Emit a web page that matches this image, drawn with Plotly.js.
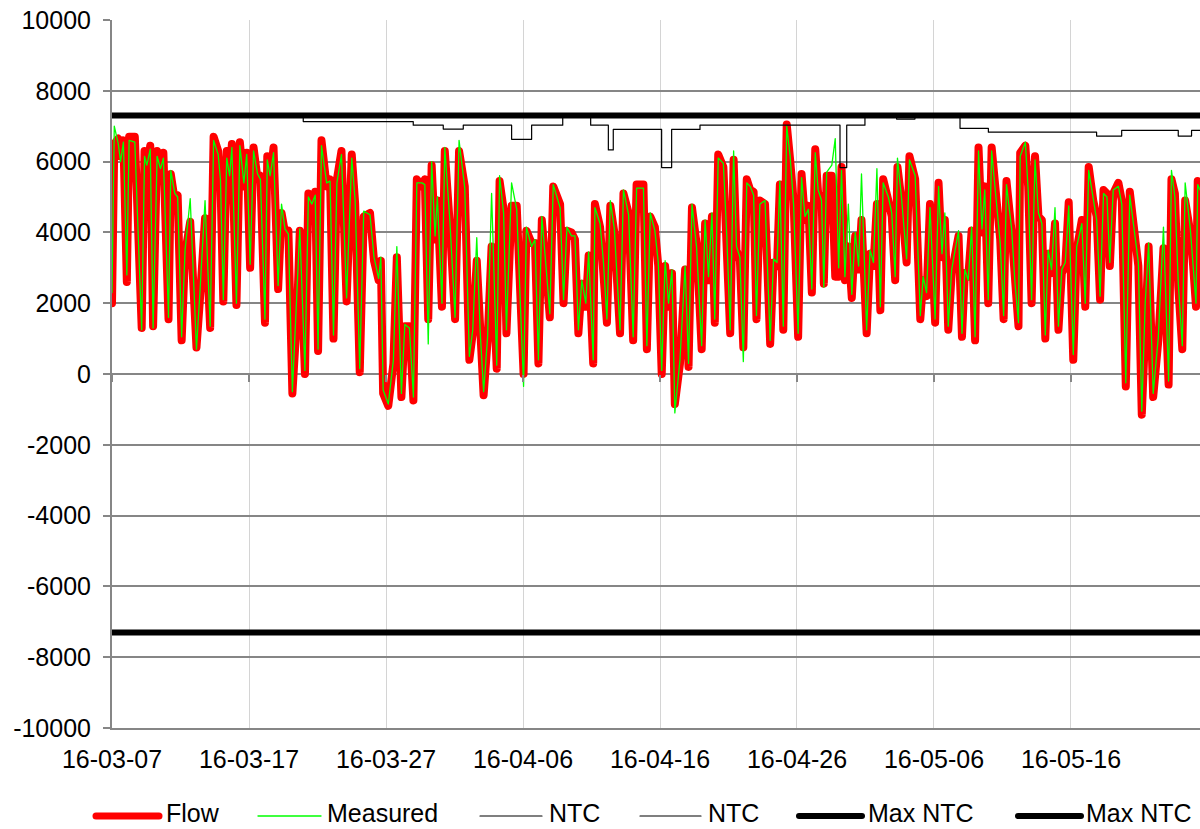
<!DOCTYPE html>
<html>
<head>
<meta charset="utf-8">
<script src="https://cdn.plot.ly/plotly-3.0.1.min.js"></script>
<style>html,body{margin:0;padding:0;background:#fff;}#chart{width:1200px;height:829px;}</style>
</head>
<body>
<div id="chart"></div>
<script>
// ---- data (hours since 2016-03-07 00:00) ----
const startDate = Date.UTC(2016, 2, 7);
const flowHour = [0,4,11,15,20,26,30,40,52,57,61,67,72,79,85,90,99,103,110,115,122,128,137,148,154,163,172,178,186,190,195,201,206,210,218,224,231,236,242,248,255,260,268,272,277,283,291,297,303,309,316,324,329,338,344,350,356,361,367,376,382,388,394,402,411,420,426,434,441,452,459,467,471,475,484,
493,499,507,513,521,528,534,543,548,554,560,566,570,578,583,592,601,608,618,626,632,639,645,651,658,665,674,679,686,691,700,709,721,726,735,741,747,753,759,767,773,785,791,797,805,811,817,823,830,835,843,846,855,861,867,873,880,890,896,905,913,919,931,937,943,951,957,963,
969,975,981,986,995,1004,1010,1016,1024,1033,1039,1045,1051,1056,1062,1071,1077,1083,1089,1094,1100,1106,1112,1118,1124,1129,1135,1144,1153,1159,1165,1170,1176,1182,1188,1194,1202,1208,1214,1220,1226,1232,1237,1243,1247,1252,1261,1267,1273,1278,1284,1290,1296,1302,1308,1313,1322,1328,1334,1340,1346,1351,1360,1366,1372,1376,1383,1392,1397,1407,1416,1421,1427,1433,1442,1448,1454,1459,1465,
1471,1483,1489,1494,1500,1506,1512,1518,1524,1529,1535,1541,1547,1556,1562,1567,1576,1582,1588,1591,1600,1605,1611,1617,1623,1629,1635,1640,1646,1652,1658,1664,1670,1676,1684,1690,1699,1705,1711,1719,1725,1731,1737,1743,1748,1754,1763,1769,1776,1783,1792,1798,1804,1810,1816,1824,1833,1842,1851,1856,1862,1868,1875,1880,1889,1894,1899,1902,1906,1912];

const flowVal = [2000,6500,6650,6150,6600,2600,6700,6700,1300,6300,5750,6450,1350,6300,5600,6250,1550,5650,4900,5050,950,3400,4300,750,2100,4400,1300,6700,6300,5400,2050,6300,5400,6500,1950,6550,5300,6250,3000,6400,5500,5600,1450,6150,5500,6400,2400,4550,4000,4050,-550,1600,4050,0,5100,4650,5150,650,6600,5300,5500,1000,5500,6300,2050,6200,4800,50,4450,4550,3200,2650,3200,-550,-900,
300,3300,-650,1350,1350,-750,5500,5300,5500,1550,5900,3800,4900,1900,6300,4150,1550,6300,5300,400,1150,3200,1150,-600,950,3600,150,5450,4650,1150,4750,4750,0,4050,3700,3700,300,4350,3200,1600,5300,4800,2000,4050,4000,3800,1150,2550,1900,3350,300,4800,4150,3050,1450,4750,4000,1150,5100,4550,950,5350,5350,700,4450,4150,3050,0,
3050,1900,2850,-850,300,2950,200,4700,3700,700,4250,2650,4450,1450,6200,5850,4000,1150,6050,3500,3200,750,5500,5200,5150,1550,4900,4800,850,3150,3050,5350,1250,7050,6050,4900,1050,5650,4350,4750,2300,6350,5100,5000,2550,5600,5600,2750,2750,5850,2650,3600,2150,3900,2950,4350,1150,3400,3050,4800,1800,5500,4900,4450,2650,5850,4900,3150,6150,5500,1550,2650,2200,4800,1450,5400,3300,4350,1250,
2850,3900,1050,2850,2750,4050,950,6400,4000,5300,2000,6400,5200,3800,1550,5450,4000,2450,1350,6250,6450,5300,2000,6150,4450,4350,1000,3400,2850,4250,1250,2850,3050,4850,400,3500,4350,1900,5850,4900,4450,2100,5200,5100,3050,5100,5400,4900,-350,5150,3800,3050,-1150,1900,3600,-650,950,3550,-300,5500,5100,2450,700,4900,4000,3050,1900,5450,5300,5400];

const measuredVal = [2300,7000,6500,6000,6550,2800,6600,6550,1250,6150,5900,6350,1300,6150,5800,6100,1600,5750,5100,5000,1050,3500,4950,700,2300,4900,1350,6600,6200,5500,2100,6100,5600,6400,2000,6450,5400,6200,3100,6300,5650,5500,1550,6050,5600,6250,2500,4800,4100,3950,-500,2650,4100,100,5000,4800,5050,700,6450,5400,5450,1100,5400,6200,2150,6100,4900,150,4600,4500,3300,2700,3300,-450,-850,
400,3600,-550,1400,1300,-650,5400,5400,5350,850,6000,3900,5000,2000,6400,4300,1600,6600,5250,500,1250,3850,1200,-500,1050,5100,250,5600,4550,1250,5400,4650,-350,4150,3600,3800,400,4450,3300,1700,5350,4700,2100,4150,3900,3900,1250,2650,2000,3450,400,4700,4250,3150,1550,4900,4100,1250,5200,4500,1050,5250,5250,800,4550,4050,3150,100,
3200,2000,2950,-1100,400,3050,300,4800,3600,800,4350,2750,4550,1550,6100,5950,3900,1250,6300,3600,3300,350,5400,5300,5050,1650,4800,4900,950,3250,3150,5450,1350,7000,6150,4800,1150,5550,4450,4650,2400,6250,5200,4900,2450,5700,5900,6650,3000,5750,2750,4800,2250,4000,3050,5650,1250,3500,3150,5800,1900,5400,5000,4550,2750,6100,5000,3250,6050,5600,1650,2750,2300,4700,1550,5300,3400,4550,1350,
2950,4050,1150,2950,2650,4150,1050,6300,4100,5200,2100,6300,5300,3700,1650,5350,4100,2550,1450,6150,6550,5200,2100,6050,4550,4250,1100,3500,2950,4700,1350,2950,3150,4750,550,3600,4250,2000,5750,5000,4350,2200,5100,5000,3150,5200,5300,4800,-250,5050,3900,3150,-1050,2000,3700,-550,1050,4150,-200,5750,5000,2550,800,5400,4100,3150,2000,5350,5200,5300];

// NTC step line (days since start, value)
const ntcDay = [0,13.96,21.99,24.18,25.64,29.17,30.63,32.9,34.94,36.23,36.59,40.12,40.85,42.92,53.14,53.63,54.96,57.27,58.61,61.9,63.97,71.87,73.7,77.83,78.8,80];
const ntcVal = [7300,7130,7030,6920,7030,6630,7030,7300,7030,6330,6910,5830,6910,7030,5830,7030,7300,7200,7300,6940,6830,6720,6880,6720,6880,6880];
const ntc2Day = [0,80];
const ntc2Val = [-7300,-7300];
const maxNtcPosVal = [7300,7300];
const maxNtcNegVal = [-7300,-7300];

const yTickVals = [-10000,-8000,-6000,-4000,-2000,0,2000,4000,6000,8000,10000];
const yTickText = ['-10000','-8000','-6000','-4000','-2000','0','2000','4000','6000','8000','10000'];
const seriesNames = ['Flow','Measured','NTC','NTC','Max NTC','Max NTC'];
const seriesColors = ['#FF0000','#00FF00','#000000','#000000','#000000','#000000'];
const seriesWidths = [8,1.3,1.2,1.2,6,6];

// ---- helpers ----
function fmt(ms){ return new Date(ms).toISOString().slice(0,16).replace('T',' '); }
const hourToDate = h => fmt(startDate + h*3600e3);
const dayToDate = d => fmt(startDate + d*86400e3);

const FONT = 'Liberation Sans, Arial, sans-serif';
const FS = 25;
const GRID = '#868686';

const traces = [
  {x: flowHour.map(hourToDate), y: flowVal, name: seriesNames[0], mode:'lines',
   line:{color:seriesColors[0], width:seriesWidths[0]}},
  {x: flowHour.map(hourToDate), y: measuredVal, name: seriesNames[1], mode:'lines',
   line:{color:seriesColors[1], width:seriesWidths[1]}},
  {x: ntcDay.map(dayToDate), y: ntcVal, name: seriesNames[2], mode:'lines',
   line:{color:seriesColors[2], width:seriesWidths[2], shape:'hv'}},
  {x: ntc2Day.map(dayToDate), y: ntc2Val, name: seriesNames[3], mode:'lines', xaxis:'x2',
   line:{color:seriesColors[3], width:seriesWidths[3]}},
  {x: ntc2Day.map(dayToDate), y: maxNtcPosVal, name: seriesNames[4], mode:'lines',
   line:{color:seriesColors[4], width:seriesWidths[4]}},
  {x: ntc2Day.map(dayToDate), y: maxNtcNegVal, name: seriesNames[5], mode:'lines',
   line:{color:seriesColors[5], width:seriesWidths[5]}}
];

const xRange = [dayToDate(0), hourToDate(1906)];

// custom legend (pixel positions converted to paper coords)
const plotL = 112, plotR = 1200, plotT = 20, plotB = 728;
const px = X => (X - plotL)/(plotR - plotL);
const py = Y => (plotB - Y)/(plotB - plotT);
const legendItems = [
  {x0:96, x1:159, tx:165},
  {x0:258, x1:321, tx:326},
  {x0:480, x1:542, tx:548},
  {x0:640, x1:701, tx:707},
  {x0:799, x1:862, tx:867},
  {x0:1018, x1:1081, tx:1085}
];
const legendLineY = 816;
const legendTextBottom = 828;
const shapes = legendItems.map((it,i)=>({
  type:'line', xref:'paper', yref:'paper', x0:px(it.x0), x1:px(it.x1), y0:py(legendLineY), y1:py(legendLineY),
  line:{color:seriesColors[i], width: i===0 ? 7 : (i>=4 ? 6 : (i===1 ? 1.3 : 1.2))}
}));
const annotations = legendItems.map((it,i)=>({
  xref:'paper', yref:'paper', x:px(it.tx), y:py(legendTextBottom), xanchor:'left', yanchor:'bottom',
  text: seriesNames[i], showarrow:false, borderpad:0, font:{family:FONT, size:FS, color:'#000'}
}));

const layout = {
  width:1200, height:829,
  margin:{l:112, r:0, t:20, b:101, pad:0},
  paper_bgcolor:'#fff', plot_bgcolor:'#fff',
  showlegend:false,
  font:{family:FONT, size:FS, color:'#000'},
  xaxis:{
    type:'date', range:xRange, tick0:dayToDate(0), dtick:864000000, tickformat:'%y-%m-%d',
    showgrid:true, gridcolor:'#d4d4d4', gridwidth:1,
    showline:true, linecolor:GRID, linewidth:2,
    ticks:'', zeroline:false, ticklabelstandoff:8,
    tickfont:{family:FONT, size:FS, color:'#000'}
  },
  xaxis2:{
    type:'date', overlaying:'x', matches:'x', anchor:'free', position:0.5, side:'bottom',
    range:xRange, tick0:dayToDate(0), dtick:864000000,
    showgrid:false, showline:false, zeroline:false, showticklabels:false,
    ticks:'outside', ticklen:7, tickwidth:2, tickcolor:GRID
  },
  yaxis:{
    range:[-10000,10000], tickvals:yTickVals, ticktext:yTickText,
    showgrid:true, gridcolor:GRID, gridwidth:2,
    showline:true, linecolor:GRID, linewidth:2,
    zeroline:true, zerolinecolor:GRID, zerolinewidth:2,
    ticks:'outside', ticklen:7, tickwidth:2, tickcolor:GRID,
    ticklabelstandoff:7,
    tickfont:{family:FONT, size:FS, color:'#000'}
  },
  shapes: shapes,
  annotations: annotations
};

Plotly.newPlot('chart', traces, layout, {displayModeBar:false, staticPlot:true}).then(gd => {
  // rounded joins like the original spreadsheet rendering
  gd.querySelectorAll('.scatterlayer path.js-line').forEach(p => {
    p.style.strokeLinejoin = 'round';
    p.style.strokeLinecap = 'round';
  });
  gd.querySelectorAll('.shapelayer path').forEach(p => { p.style.strokeLinecap = 'round'; });
});
</script>
</body>
</html>
